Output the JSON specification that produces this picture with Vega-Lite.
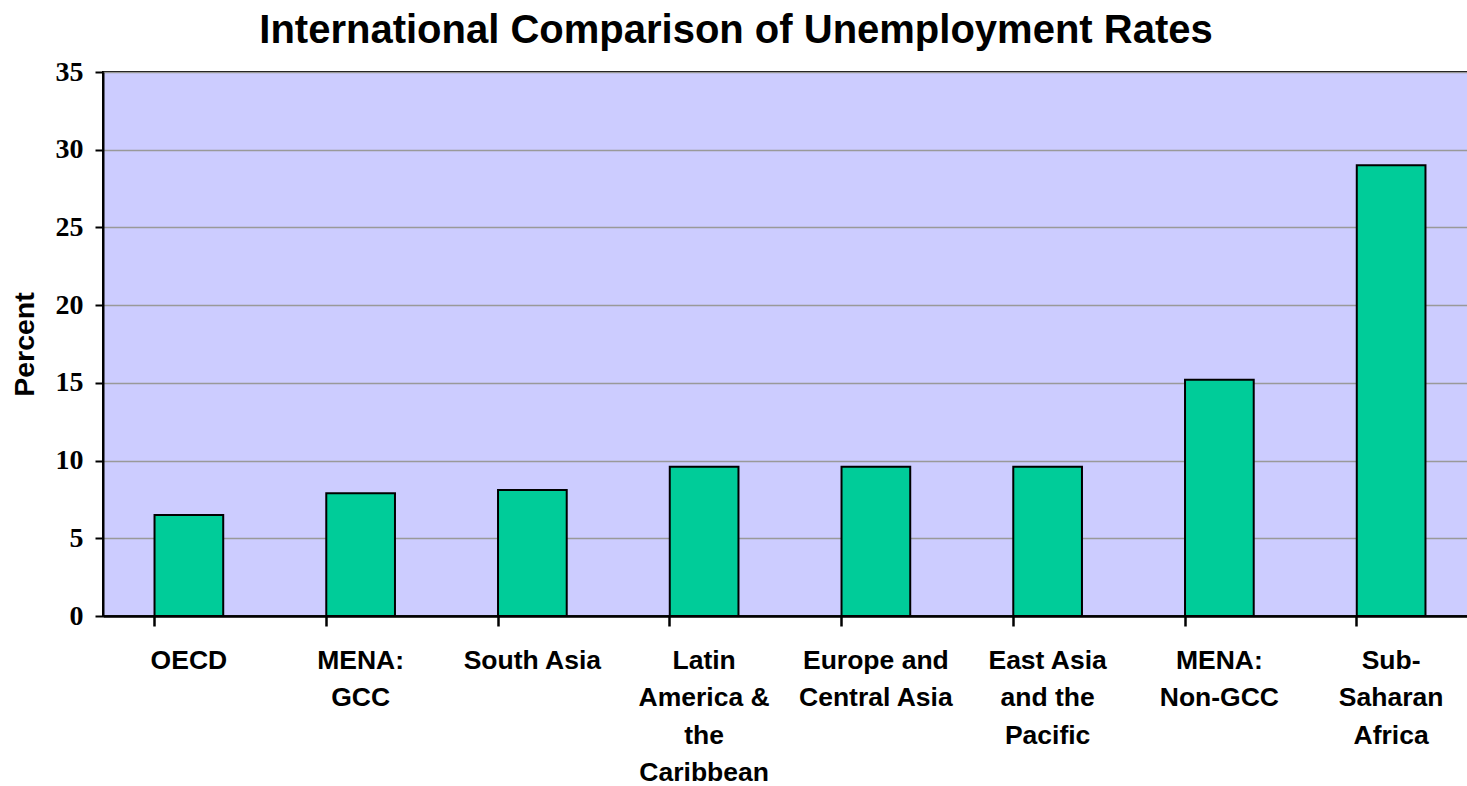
{
  "$schema": "https://vega.github.io/schema/vega-lite/v6.json",
  "autosize": "none",
  "width": 1374,
  "height": 544,
  "padding": {"left": 103, "top": 72, "right": 0, "bottom": 170},
  "background": "white",
  "title": {
    "text": "International Comparison of Unemployment Rates",
    "font": "Liberation Sans",
    "fontSize": 40,
    "fontWeight": "bold",
    "color": "black",
    "anchor": "middle",
    "dx": -54,
    "offset": 7
  },
  "config": {
    "view": {"fill": "#CCCCFF", "stroke": "black", "strokeWidth": 2}
  },
  "data": {
    "values": [
      {"region": "OECD", "rate": 6.5},
      {"region": "MENA: GCC", "rate": 7.9},
      {"region": "South Asia", "rate": 8.1},
      {"region": "Latin America & the Caribbean", "rate": 9.6},
      {"region": "Europe and Central Asia", "rate": 9.6},
      {"region": "East Asia and the Pacific", "rate": 9.6},
      {"region": "MENA: Non-GCC", "rate": 15.2},
      {"region": "Sub-Saharan Africa", "rate": 29.0}
    ]
  },
  "layer": [
    {
      "mark": {"type": "bar", "fill": "#00CC99", "stroke": "black", "strokeWidth": 2},
      "encoding": {
        "x": {
          "field": "region",
          "type": "nominal",
          "sort": null,
          "scale": {"paddingInner": 0.6, "paddingOuter": 0.3},
          "axis": {
            "orient": "bottom",
            "title": null,
            "domain": false,
            "ticks": false,
            "labelAngle": 0,
            "labelFont": "Liberation Sans",
            "labelFontWeight": "bold",
            "labelFontSize": 26.5,
            "labelColor": "black",
            "labelBaseline": "top",
            "labelPadding": 31,
            "labelLineHeight": 37.5,
            "labelExpr": "({'OECD': 'OECD', 'MENA: GCC': ['MENA:', 'GCC'], 'South Asia': 'South Asia', 'Latin America & the Caribbean': ['Latin', 'America &', 'the', 'Caribbean'], 'Europe and Central Asia': ['Europe and', 'Central Asia'], 'East Asia and the Pacific': ['East Asia', 'and the', 'Pacific'], 'MENA: Non-GCC': ['MENA:', 'Non-GCC'], 'Sub-Saharan Africa': ['Sub-', 'Saharan', 'Africa']})[datum.value]"
          }
        },
        "y": {
          "field": "rate",
          "type": "quantitative",
          "scale": {"domain": [0, 35], "nice": false},
          "axis": {
            "title": "Percent",
            "titleFont": "Liberation Sans",
            "titleFontWeight": "bold",
            "titleFontSize": 28.5,
            "titleColor": "black",
            "titlePadding": 16,
            "values": [0, 5, 10, 15, 20, 25, 30, 35],
            "labelFont": "Liberation Serif",
            "labelFontWeight": "bold",
            "labelFontSize": 28,
            "labelColor": "black",
            "labelPadding": 12,
            "tickSize": 8,
            "tickWidth": 2,
            "tickColor": "black",
            "domainColor": "black",
            "domainWidth": 2,
            "grid": true,
            "gridColor": "#999999",
            "gridWidth": 1.5
          }
        }
      }
    },
    {
      "mark": {"type": "rule", "opacity": 0},
      "encoding": {
        "x": {
          "field": "region",
          "type": "nominal",
          "sort": null,
          "axis": {
            "orient": "bottom",
            "title": null,
            "labels": false,
            "bandPosition": 0,
            "domain": true,
            "domainColor": "black",
            "domainWidth": 2.5,
            "ticks": true,
            "tickSize": 10,
            "tickWidth": 2.5,
            "tickColor": "black"
          }
        }
      }
    }
  ],
  "resolve": {"axis": {"x": "independent"}}
}
